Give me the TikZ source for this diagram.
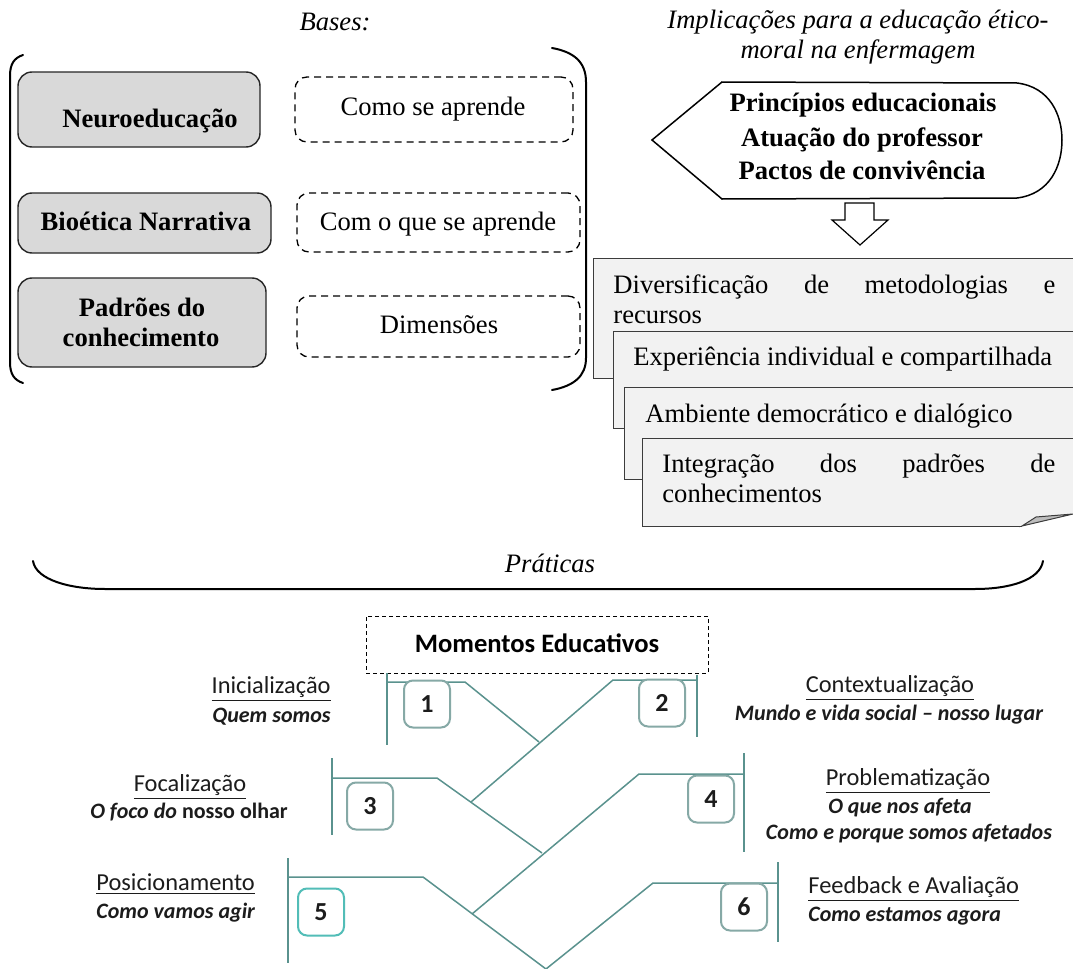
\documentclass[tikz,border=0pt]{standalone}
\usepackage{fontspec}
\setmainfont{Liberation Serif}
\newfontfamily\calibfont{Carlito}
\definecolor{tealline}{HTML}{5A928E}
\definecolor{tealbox}{HTML}{86A9A6}
\definecolor{tealcyan}{HTML}{52BDB7}
\definecolor{basegray}{HTML}{D9D9D9}
\definecolor{docfill}{HTML}{F2F2F2}
\definecolor{docedge}{HTML}{3C3C3C}
\definecolor{foldfill}{HTML}{BDBDBD}
\definecolor{ink}{HTML}{1C1C1C}

\begin{document}
\begin{tikzpicture}[x=0.5pt,y=-0.5pt,
  serif/.style={font=\fontsize{13.3}{15}\selectfont, inner sep=0pt},
  serifit/.style={font=\fontsize{13.3}{15}\selectfont\itshape, inner sep=0pt},
  serifbf/.style={font=\fontsize{13.3}{15}\selectfont\bfseries, inner sep=0pt},
  basebox/.style={draw=black!85, line width=0.7pt, fill=basegray, rounded corners=7pt, inner sep=0pt},
  dimbox/.style={draw=black, line width=0.65pt, dash pattern=on 3.5pt off 2.5pt, rounded corners=6pt, inner sep=0pt},
  bracket/.style={line width=1pt, line cap=round},
  docedgeline/.style={draw=docedge, line width=0.5pt},
  calib/.style={font=\calibfont\fontsize{12.2}{14}\selectfont, inner sep=0pt, text=ink},
  calibb/.style={font=\calibfont\fontsize{11}{13}\selectfont\bfseries, inner sep=0pt, text=ink},
  calibbi/.style={font=\calibfont\fontsize{11}{13}\selectfont\bfseries\itshape, inner sep=0pt, text=ink},
  momline/.style={draw=tealline, line width=0.75pt},
  numbox/.style={draw=tealbox, line width=1pt, rounded corners=4.5pt, minimum width=23pt, minimum height=23.5pt, inner sep=0pt, fill=white, font=\calibfont\fontsize{13}{15}\selectfont\bfseries, text=ink},
]
\useasboundingbox (0,0) rectangle (1073,969);
\fill[white] (0,0) rectangle (1073,969);

% ---------- Bases ----------
\node[serifit, anchor=base] (bases) at (335,31) {Bases:};
\draw[bracket] (23,55) .. controls (14,58) and (10,64) .. (10,76) -- (10,362) .. controls (10,374) and (14,380) .. (23,383);
\draw[bracket] (552,48) .. controls (574,52) and (586,62) .. (586,82) -- (586,358) .. controls (586,376) and (574,386) .. (552,390);

\node[basebox, minimum width=121pt, minimum height=37.5pt] (neuro) at (139,109.5) {};
\node[serifbf, anchor=base] (neurot) at (150,127) {Neuroeducação};
\node[basebox, minimum width=126.5pt, minimum height=30pt] (bioet) at (144.5,223) {};
\node[serifbf, anchor=base] (bioett) at (146,230) {Bioética Narrativa};
\node[basebox, minimum width=124pt, minimum height=44.5pt] (padr) at (142,322.5) {};
\node[serifbf, anchor=base] (padrt1) at (142,316) {Padrões do};
\node[serifbf, anchor=base] (padrt2) at (141,346) {conhecimento};

\node[dimbox, minimum width=139pt, minimum height=32.5pt] (como) at (434,109.5) {};
\node[serif, anchor=base] (comot) at (433,115) {Como se aprende};
\node[dimbox, minimum width=141.5pt, minimum height=29.5pt] (comque) at (438.5,222.5) {};
\node[serif, anchor=base] (comquet) at (438,230) {Com o que se aprende};
\node[dimbox, minimum width=141.5pt, minimum height=30.5pt] (dimen) at (438.5,326.5) {};
\node[serif, anchor=base] (dim) at (439,333) {Dimensões};

% ---------- Implicações ----------
\node[serifit, anchor=base] (imp1) at (858,28) {Implicações para a educação ético-};
\node[serifit, anchor=base] (imp2) at (858,58) {moral na enfermagem};
\draw[line width=0.75pt] (652,140) -- (722,82) -- (1017,83) .. controls (1050,87) and (1062,115) .. (1062,140) .. controls (1062,166) and (1050,194) .. (1017,198) -- (722,199) -- cycle;
\node[serifbf, anchor=base] (pr1) at (863,112) {Princípios educacionais};
\node[serifbf, anchor=base] (pr2) at (862,146) {Atuação do professor};
\node[serifbf, anchor=base] (pr3) at (862,179) {Pactos de convivência};
\draw[line width=0.6pt, fill=white] (845,203) -- (874,203) -- (874,220) -- (888,220) -- (860,245) -- (832,220) -- (845,220) -- cycle;

% stacked sheets
\fill[docfill] (593,258) rectangle (1073,378);
\draw[docedgeline] (1073,258) -- (593,258) -- (593,378) -- (1073,378);
\node[serif, anchor=base west] (d1a) at (613,293) {\hbox to 221pt{Diversificação\hfill de\hfill metodologias\hfill e}};
\node[serif, anchor=base west] (d1b) at (613,323) {recursos};

\fill[docfill] (613,331) rectangle (1073,428);
\draw[docedgeline] (1073,331) -- (613,331) -- (613,428) -- (1073,428);
\node[serif, anchor=base west] (d2) at (633,365) {Experiência individual e compartilhada};

\fill[docfill] (624,387) rectangle (1073,479);
\draw[docedgeline] (1073,387) -- (624,387) -- (624,479) -- (1073,479);
\node[serif, anchor=base west] (d3) at (645,422) {Ambiente democrático e dialógico};

\fill[docfill] (1073,438) -- (642,438) -- (642,526) -- (1022,526) -- (1073,514) -- cycle;
\draw[docedgeline] (1073,438) -- (642,438) -- (642,526) -- (1022,526);
\filldraw[fill=foldfill, draw=docedge, line width=0.5pt] (1022,526) -- (1036,517) -- (1073,514) -- cycle;
\node[serif, anchor=base west] (d4a) at (662,472) {\hbox to 196.5pt{Integração\hfill dos\hfill padrões\hfill de}};
\node[serif, anchor=base west] (d4b) at (662,502) {conhecimentos};

% ---------- Práticas ----------
\node[serifit, anchor=base] (prat) at (550,572) {Práticas};
\draw[bracket] (33,561) .. controls (36,580) and (70,589) .. (105,589) -- (975,589) .. controls (1010,589) and (1040,580) .. (1043,561);

\node[draw=black, line width=0.5pt, dash pattern=on 2pt off 1.5pt, minimum width=171pt, minimum height=28.5pt, inner sep=0pt] (mom) at (537,644.5) {};
\node[font=\calibfont\fontsize{13.3}{15}\selectfont\bfseries, inner sep=0pt, anchor=base] (momt) at (537,652) {Momentos Educativos};

% zig-zag of the educational moments
\draw[momline] (387,673) -- (387,745);
\draw[momline] (387,682) -- (465,682) -- (539,742);
\draw[momline] (697,675) -- (697,737);
\draw[momline] (697,680) -- (613,680) -- (471,802);
\draw[momline] (332,758) -- (332,835);
\draw[momline] (332,778) -- (437,778) -- (542,853);
\draw[momline] (744,753) -- (744,852);
\draw[momline] (744,774) -- (639,774) -- (472,914);
\draw[momline] (288,858) -- (288,963);
\draw[momline] (288,877) -- (423,877) -- (546,969);
\draw[momline] (778,862) -- (778,942);
\draw[momline] (778,883) -- (653,883) -- (546,969);

\node[numbox] (n1) at (427,704) {1};
\node[numbox] (n2) at (662,703) {2};
\node[numbox] (n3) at (370,806) {3};
\node[numbox] (n4) at (711,799) {4};
\node[numbox, draw=tealcyan] (n5) at (321,912) {5};
\node[numbox] (n6) at (744,907) {6};

\node[calib, anchor=base east] (l1) at (331,693) {\underline{Inicialização}};
\node[calibbi, anchor=base east] (l1s) at (331,722) {Quem somos};
\node[calib, anchor=base] (l3) at (190,791) {\underline{Focalização}};
\node[calibb, anchor=base] (l3s) at (189,818) {\textit{O foco do} nosso olhar};
\node[calib, anchor=base west] (l5) at (96,890) {\underline{Posicionamento}};
\node[calibbi, anchor=base west] (l5s) at (96,918) {Como vamos agir};
\node[calib, anchor=base] (l2) at (890,692) {\underline{Contextualização}};
\node[calibbi, anchor=base] (l2s) at (889,720) {Mundo e vida social – nosso lugar};
\node[calib, anchor=base] (l4) at (908,785) {\underline{Problematização}};
\node[calibbi, anchor=base] (l4s) at (900,813) {O que nos afeta};
\node[calibbi, anchor=base] (l4t) at (909,839) {Como e porque somos afetados};
\node[calib, anchor=base west] (l6) at (808,893) {\underline{Feedback e Avaliação}};
\node[calibbi, anchor=base west] (l6s) at (808,921) {Como estamos agora};
\end{tikzpicture}
\end{document}
